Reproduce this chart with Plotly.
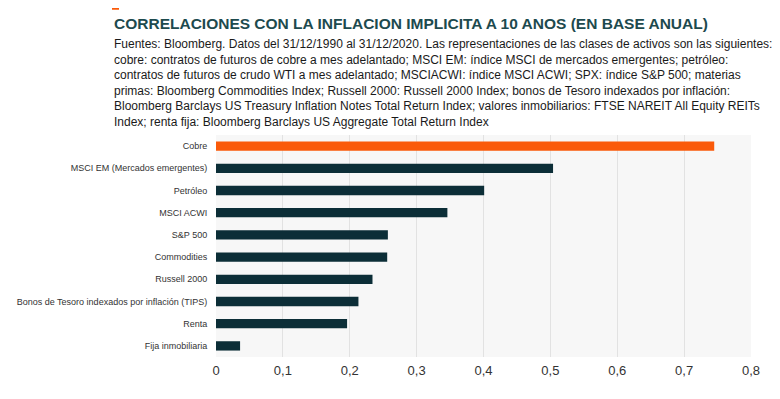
import plotly.graph_objects as go

categories = [
    "Cobre",
    "MSCI EM (Mercados emergentes)",
    "Petróleo",
    "MSCI ACWI",
    "S&P 500",
    "Commodities",
    "Russell 2000",
    "Bonos de Tesoro indexados por inflación (TIPS)",
    "Renta",
    "Fija inmobiliaria",
]
values = [0.745, 0.504, 0.401, 0.346, 0.257, 0.256, 0.234, 0.213, 0.196, 0.036]
tick_vals = [0, 0.1, 0.2, 0.3, 0.4, 0.5, 0.6, 0.7, 0.8]
tick_labels = ["0", "0,1", "0,2", "0,3", "0,4", "0,5", "0,6", "0,7", "0,8"]

title = "CORRELACIONES CON LA INFLACION IMPLICITA A 10 ANOS (EN BASE ANUAL)"
subtitle_lines = [
    "Fuentes: Bloomberg. Datos del 31/12/1990 al 31/12/2020. Las representaciones de las clases de activos son las siguientes:",
    "cobre: contratos de futuros de cobre a mes adelantado; MSCI EM: índice MSCI de mercados emergentes; petróleo:",
    "contratos de futuros de crudo WTI a mes adelantado; MSCIACWI: índice MSCI ACWI; SPX: índice S&P 500; materias",
    "primas: Bloomberg Commodities Index; Russell 2000: Russell 2000 Index; bonos de Tesoro indexados por inflación:",
    "Bloomberg Barclays US Treasury Inflation Notes Total Return Index; valores inmobiliarios: FTSE NAREIT All Equity REITs",
    "Index; renta fija: Bloomberg Barclays US Aggregate Total Return Index",
]

# page has an 8px body margin; figure coordinates are screen coords minus 8
OFF = 8
W, H = 780 - OFF, 399 - OFF
L = 216 - OFF
T = 135 - OFF
R = W - (751 - OFF)
B = H - (357 - OFF)
pw, ph = W - L - R, H - T - B


def px_x(px):
    return (px - OFF - L) / pw


def px_y(py):
    return (H - B - (py - OFF)) / ph


ORANGE = "#fa5a0a"
DARK = "#0c2e37"
TITLE_C = "#1d4a4e"
FONT = "Liberation Sans, Arial, sans-serif"

colors = [ORANGE] + [DARK] * (len(categories) - 1)

fig = go.Figure(
    go.Bar(
        x=values,
        y=categories,
        orientation="h",
        marker=dict(color=colors, line=dict(width=0)),
        width=0.42,
    )
)

annotations = [
    dict(
        text="<b>" + title + "</b>",
        x=px_x(112), y=px_y(23), xref="paper", yref="paper",
        xanchor="left", yanchor="middle", showarrow=False,
        font=dict(family=FONT, size=15.5, color=TITLE_C),
    )
]
line_y = [44, 60, 75, 91, 106, 122]
for t, yy in zip(subtitle_lines, line_y):
    annotations.append(
        dict(
            text=t, x=px_x(112), y=px_y(yy), xref="paper", yref="paper",
            xanchor="left", yanchor="middle", showarrow=False,
            font=dict(family=FONT, size=12, color="#1a1a1a"),
        )
    )

fig.update_layout(
    width=W, height=H,
    margin=dict(l=L, r=R, t=T, b=B, pad=0, autoexpand=False),
    paper_bgcolor="white",
    plot_bgcolor="#f7f7f7",
    showlegend=False,
    font=dict(family=FONT, color="#333333"),
    annotations=annotations,
    shapes=[
        dict(
            type="line", xref="paper", yref="paper",
            x0=px_x(112), x1=px_x(119), y0=px_y(8.5), y1=px_y(8.5),
            line=dict(color=ORANGE, width=2.5),
        )
    ],
    xaxis=dict(
        range=[0, 0.8], tickvals=tick_vals, ticktext=tick_labels,
        showgrid=True, gridcolor="#e2e2e2", gridwidth=1,
        zeroline=False, showline=False, automargin=False,
        tickfont=dict(size=13, color="#333333"),
        ticks="outside", ticklen=1, tickcolor="rgba(0,0,0,0)",
    ),
    yaxis=dict(
        autorange="reversed", automargin=False,
        showgrid=False, zeroline=False, showline=False,
        tickfont=dict(size=9, color="#333333"),
        ticks="outside", ticklen=6, tickcolor="rgba(0,0,0,0)",
    ),
)
fig.data[0].update(hoverinfo="x+y")

fig.write_html("out.html")
